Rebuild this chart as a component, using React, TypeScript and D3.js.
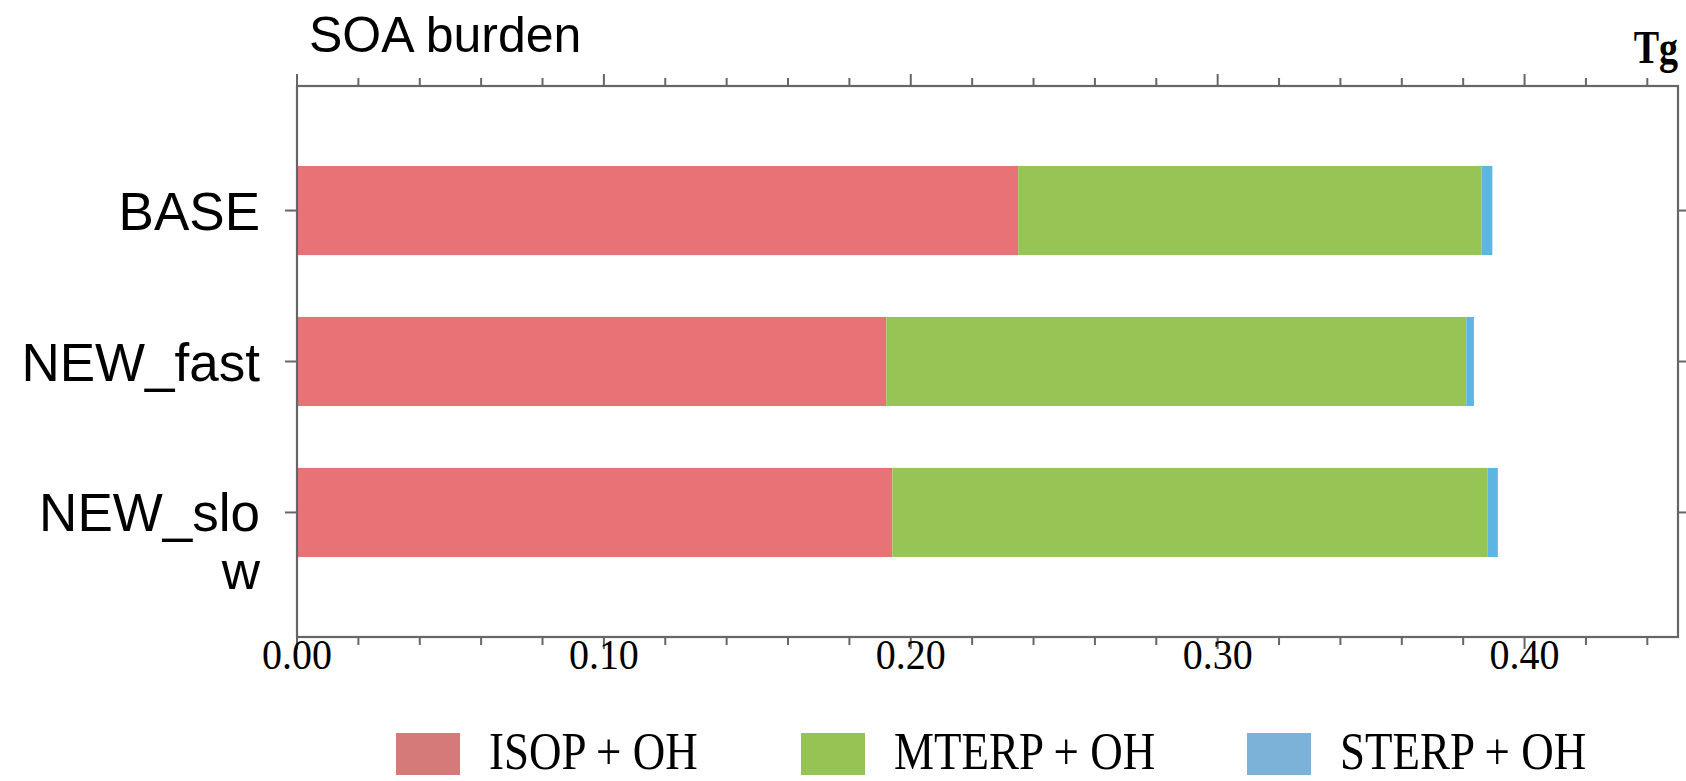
import React from "react";
import * as d3 from "d3";

const categories = ["BASE", "NEW_fast", "NEW_slow"];
const categoryLines = [["BASE"], ["NEW_fast"], ["NEW_slo", "w"]];
const seriesNames = ["ISOP + OH", "MTERP + OH", "STERP + OH"];
const isopOH = [0.235, 0.192, 0.194];
const mterpOH = [0.151, 0.189, 0.194];
const sterpOH = [0.0035, 0.0025, 0.0033];
const majorTicks = [0, 0.1, 0.2, 0.3, 0.4];
const majorTickLabels = ["0.00", "0.10", "0.20", "0.30", "0.40"];
const barColors = ["#E87376", "#96C555", "#5DB5E2"];
const legendColors = ["#D67A79", "#96C454", "#7CB2D8"];

const W = 1686;
const H = 781;
const left = 297;
const right = 1678;
const top = 86;
const bottom = 637;

export default function App() {
  const x = d3.scaleLinear().domain([0, 0.45]).range([left, right]);
  const y = d3
    .scaleBand<string>()
    .domain(categories)
    .range([top, bottom])
    .paddingInner(0.41)
    .paddingOuter(0.53);

  const rows = categories.map((c, i) => ({
    cat: c,
    [seriesNames[0]]: isopOH[i],
    [seriesNames[1]]: mterpOH[i],
    [seriesNames[2]]: sterpOH[i],
  }));
  const stacked = d3.stack<any>().keys(seriesNames)(rows);

  const minorTicks = x.ticks(25).filter((t) => t <= 0.445);
  const isMajor = (t: number) => majorTicks.some((m) => Math.abs(m - t) < 1e-9);
  const axisColor = "#666666";
  const serif = "'Liberation Serif', 'Times New Roman', serif";
  const sans = "'Liberation Sans', Arial, sans-serif";

  const legendX = [396, 801, 1247];
  const legendBase = 769;

  return (
    <svg
      width={W}
      height={H}
      style={{ position: "absolute", left: 0, top: 0, background: "#fff" }}
    >
      <rect x={0} y={0} width={W} height={H} fill="#fff" />
      <text x={309} y={52} fontFamily={sans} fontSize={50} fill="#000">
        SOA burden
      </text>
      <text
        x={right}
        y={63}
        fontFamily={serif}
        fontWeight="bold"
        fontSize={38}
        textAnchor="end"
        transform={`translate(0,63) scale(1,1.2) translate(0,-63)`}
        fill="#000"
      >
        Tg
      </text>

      {/* bars */}
      {stacked.map((s, si) =>
        s.map((d, i) => (
          <rect
            key={`${si}-${i}`}
            x={x(d[0])}
            y={y(categories[i])}
            width={x(d[1]) - x(d[0])}
            height={y.bandwidth()}
            fill={barColors[si]}
          />
        ))
      )}

      {/* frame */}
      <rect
        x={left}
        y={top}
        width={right - left}
        height={bottom - top}
        fill="none"
        stroke={axisColor}
        strokeWidth={2.2}
      />

      {/* x ticks top & bottom */}
      {minorTicks.map((t) => {
        const len = isMajor(t) ? 12 : 8;
        return (
          <g key={t}>
            <line x1={x(t)} x2={x(t)} y1={bottom} y2={bottom + len} stroke={axisColor} strokeWidth={2} />
            <line x1={x(t)} x2={x(t)} y1={top} y2={top - len} stroke={axisColor} strokeWidth={2} />
          </g>
        );
      })}
      {majorTicks.map((t, i) => (
        <text
          key={t}
          x={x(t)}
          y={669}
          textAnchor="middle"
          fontFamily={serif}
          fontSize={40}
          transform={`translate(0,669) scale(1,1.05) translate(0,-669)`}
          fill="#000"
        >
          {majorTickLabels[i]}
        </text>
      ))}

      {/* y ticks & labels */}
      {categories.map((c, i) => {
        const cy = (y(c) as number) + y.bandwidth() / 2;
        return (
          <g key={c}>
            <line x1={left - 12} x2={left} y1={cy} y2={cy} stroke={axisColor} strokeWidth={2} />
            <line x1={right} x2={right + 9} y1={cy} y2={cy} stroke={axisColor} strokeWidth={2} />
            {categoryLines[i].map((ln, li) => (
              <text
                key={li}
                x={260}
                y={cy + 19 + li * 58}
                textAnchor="end"
                fontFamily={sans}
                fontSize={53}
                fill="#000"
              >
                {ln}
              </text>
            ))}
          </g>
        );
      })}

      {/* legend */}
      {seriesNames.map((n, i) => (
        <g key={n}>
          <rect x={legendX[i]} y={733} width={64} height={42} fill={legendColors[i]} />
          <text
            x={legendX[i] + 93}
            y={legendBase}
            fontFamily={serif}
            fontSize={45}
            transform={`translate(0,${legendBase}) scale(1,1.15) translate(0,-${legendBase})`}
            fill="#000"
          >
            {n}
          </text>
        </g>
      ))}
    </svg>
  );
}
